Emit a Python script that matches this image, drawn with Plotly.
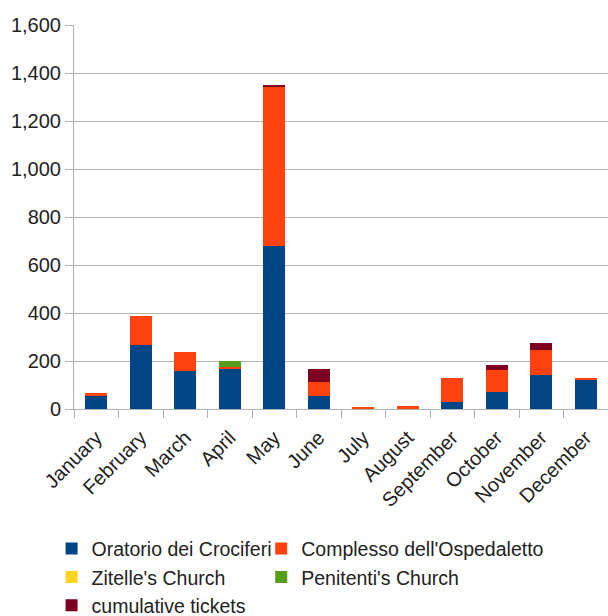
import plotly.graph_objects as go

months = ["January", "February", "March", "April", "May", "June", "July",
          "August", "September", "October", "November", "December"]
oratorio = [55, 268, 158, 170, 680, 55, 0, 0, 30, 71, 142, 121]
complesso = [10, 120, 78, 5, 662, 56, 6, 13, 100, 90, 104, 9]
zitelle = [0, 0, 0, 0, 0, 0, 0, 0, 0, 0, 0, 0]
penitenti = [0, 0, 0, 25, 0, 0, 0, 0, 0, 0, 0, 0]
cumulative = [0, 0, 0, 0, 5, 56, 0, 0, 0, 22, 28, 0]

series = [
    ("Oratorio dei Crociferi", oratorio, "#004586", "legend"),
    ("Complesso dell'Ospedaletto", complesso, "#ff420e", "legend2"),
    ("Zitelle's Church", zitelle, "#ffd320", "legend"),
    ("Penitenti's Church", penitenti, "#579d1c", "legend2"),
    ("cumulative tickets", cumulative, "#7e0021", "legend"),
]

fig = go.Figure()
for name, vals, col, lg in series:
    fig.add_trace(go.Bar(x=months, y=vals, name=name, marker_color=col,
                         marker_line_width=0, legend=lg))

fam = "Liberation Sans, Arial, sans-serif"
ytick_font = dict(family=fam, size=20, color="#222222")
xtick_font = dict(family=fam, size=20, color="#222222")
leg_font = dict(family=fam, size=19.5, color="#222222")
fig.update_layout(
    barmode="stack",
    bargap=0.5,
    width=608, height=616,
    margin=dict(l=74, r=0, t=25, b=207),
    plot_bgcolor="white", paper_bgcolor="white",
    font=ytick_font,
    legend=dict(orientation="v", x=-0.042, y=0.1406, xref="paper", yref="container",
                xanchor="left", yanchor="top", bgcolor="rgba(0,0,0,0)",
                traceorder="normal", font=leg_font, itemclick=False),
    legend2=dict(orientation="v", x=0.3506, y=0.1406, xref="paper", yref="container",
                 xanchor="left", yanchor="top", bgcolor="rgba(0,0,0,0)",
                 traceorder="normal", font=leg_font, itemclick=False),
    showlegend=True,
)
fig.update_xaxes(type="category", tickangle=-45, showline=True, linecolor="#b3b3b3",
                 ticks="outside", ticklen=8, tickcolor="#b3b3b3", tickson="boundaries",
                 ticklabelstandoff=8, showgrid=False, tickfont=xtick_font,
                 automargin=False)
fig.update_yaxes(range=[0, 1600], dtick=200, tickformat=",", showline=True,
                 linecolor="#b3b3b3", ticks="outside", ticklen=8, tickcolor="#b3b3b3",
                 showgrid=True, gridcolor="#b3b3b3", gridwidth=1, zeroline=False,
                 tickfont=ytick_font, automargin=False)
fig.write_html("out.html", config={"displayModeBar": False},
               post_script="document.body.style.margin='0';")
